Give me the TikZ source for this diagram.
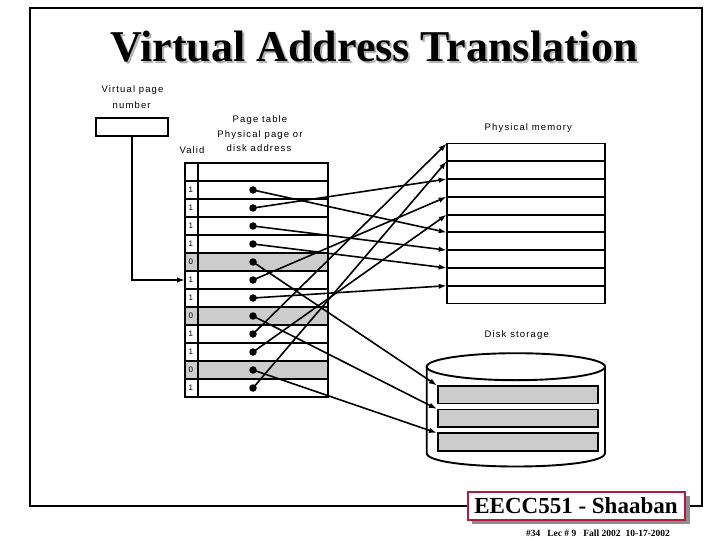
\documentclass[tikz,border=0pt]{standalone}
\usepackage{fontspec}
\setmainfont{Liberation Serif}
\newfontfamily\uisans[LetterSpace=12]{Liberation Sans}
\usetikzlibrary{arrows.meta}
\definecolor{cellgray}{RGB}{204,204,204}
\definecolor{footred}{RGB}{175,30,60}
\begin{document}
\begin{tikzpicture}[x=1pt,y=-1pt,
  lbl/.style={font=\uisans\fontsize{9.5}{10}\selectfont, inner sep=0},
  bit/.style={font=\uisans\fontsize{8}{8}\selectfont, inner sep=0},
  gridline/.style={line width=1.9pt},
  conn/.style={line width=1.6pt, -{Latex[length=8pt,width=5.5pt]}},
  dotnode/.style={circle, fill=black, inner sep=0, minimum size=7.5pt},
]
\useasboundingbox (0,0) rectangle (720,540);
% frame
\draw[line width=2.8pt] (468,506) -- (30,506) -- (30,8) -- (702,8) -- (702,506) -- (688,506);
% title
\node[font=\bfseries\fontsize{44}{48}\selectfont, text=black!30, anchor=base] at (376,64) {Virtual Address Translation};
\node[font=\bfseries\fontsize{44}{48}\selectfont, anchor=base] (title) at (374,62) {Virtual Address Translation};
% labels
\node[lbl] (vpl1) at (132.5,90) {Virtual page};
\node[lbl] (vpl2) at (131.7,105) {number};
\node[lbl] (ptl1) at (260,120) {Page table};
\node[lbl] (ptl2) at (260,135) {Physical page or};
\node[lbl] (ptl3) at (259,148.5) {disk address};
\node[lbl] (valid) at (192,150) {Valid};
\node[lbl] (pml) at (528.3,128.5) {Physical memory};
\node[lbl] (dsl) at (516.7,335) {Disk storage};
% virtual page number box
\node[draw, gridline, minimum width=72pt, minimum height=18pt, inner sep=0] (vpn) at (131.7,126.7) {};
% page table
\foreach \r in {5,8,11} {
  \fill[cellgray] (185,{181+18*(\r-1)}) rectangle (327.7,{181+18*\r});
}
\draw[gridline] (185,163) rectangle (327.7,397);
\draw[gridline] (197.7,163) -- (197.7,397);
\foreach \k in {0,...,11} {
  \draw[gridline] (185,{181+18*\k}) -- (327.7,{181+18*\k});
}
\foreach \v [count=\i] in {1,1,1,1,0,1,1,0,1,1,0,1} {
  \node[bit] (v\i) at (190.8,{190+18*(\i-1)}) {\v};
  \node[dotnode] (r\i) at (253,{190+18*(\i-1)}) {};
}
\coordinate (in6) at (185,280);
\draw[conn] (vpn.south) |- (in6);
% physical memory
\draw[gridline] (446.7,143.5) rectangle (605,303.5);
\foreach \k in {1,...,8} {
  \draw[gridline] (446.7,{143.5+17.78*\k}) -- (605,{143.5+17.78*\k});
}
\foreach \k in {0,...,8} {
  \coordinate (m\k) at (446.7,{143.5+17.78*\k});
}
% disk
\fill[white] (426.7,366.7) -- (426.7,453) .. controls (426.7,471) and (605,471) .. (605,453) -- (605,366.7) -- cycle;
\draw[gridline] (426.7,366.7) -- (426.7,453) .. controls (426.7,471) and (605,471) .. (605,453) -- (605,366.7);
\draw[gridline, fill=white] (515.85,366.7) ellipse[x radius=89.15, y radius=13.5];
\draw[gridline, fill=cellgray] (438.3,386) rectangle (598.3,403.5);
\draw[gridline, fill=cellgray] (438.3,409.5) rectangle (598.3,427.3);
\draw[gridline, fill=cellgray] (438.3,433.3) rectangle (598.3,451);
\coordinate (d1) at (437,385.5);
\coordinate (d2) at (437,409);
\coordinate (d3) at (437,433);
% connectors
\draw[conn] (r1.center) -- (m5);
\draw[conn] (r2.center) -- (m2);
\draw[conn] (r3.center) -- (m6);
\draw[conn] (r4.center) -- (m7);
\draw[conn] (r6.center) -- (m3);
\draw[conn] (r7.center) -- (m8);
\draw[conn] (r9.center) -- (m0);
\draw[conn] (r10.center) -- (m4);
\draw[conn] (r12.center) -- (m1);
\draw[conn] (r5.center) -- (d1);
\draw[conn] (r8.center) -- (d2);
\draw[conn] (r11.center) -- (d3);
% footer
\fill[black!45] (472,496) rectangle (690,524);
\draw[footred, line width=2pt, fill=white] (468,492) rectangle (685,520);
\node[font=\bfseries\fontsize{23}{26}\selectfont, inner sep=0] (foot) at (576,506) {EECC551 - Shaaban};
\node[font=\bfseries\fontsize{9.5}{10}\selectfont, inner sep=0] (foot2) at (598,533) {\#34\hspace{7pt}Lec \# 9\hspace{7pt}Fall 2002\hspace{5pt}10-17-2002};
\end{tikzpicture}
\end{document}
